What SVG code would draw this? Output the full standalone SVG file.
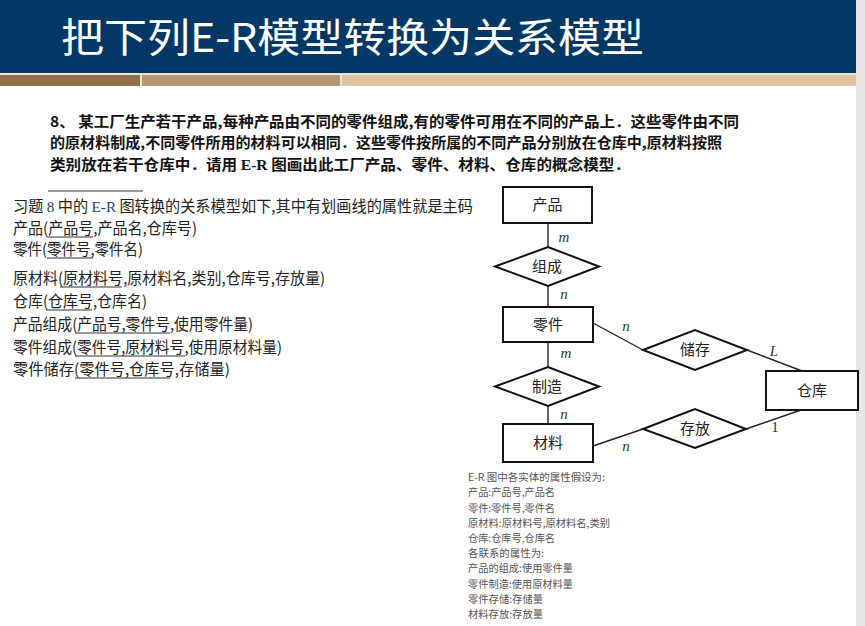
<svg xmlns="http://www.w3.org/2000/svg" width="865" height="626" viewBox="0 0 865 626">
<style>
.cjk{font-family:"Noto Sans CJK SC","Noto Sans",sans-serif}
.title{font-size:40px;fill:#ffffff}
.prob{font-size:14.5px;font-weight:bold;fill:#111}
.rel{font-size:15.5px;fill:#222}
.ul{stroke:#333;stroke-width:1}
.box{fill:#fff;stroke:#111;stroke-width:2}
.dia{fill:#fff;stroke:#111;stroke-width:2}
.conn line{stroke:#222;stroke-width:1.4}
.lbl{font-size:15px;fill:#222;text-anchor:middle}
.card{font-family:"Liberation Serif",serif;font-size:15px;font-style:italic;fill:#333;text-anchor:middle}
.note{font-size:10.5px;fill:#555}
.serif{font-family:"Liberation Serif",serif}
</style>
<rect x="0" y="0" width="865" height="626" fill="#ffffff"/>
<!-- header -->
<rect x="0" y="0" width="856" height="73" fill="#023865"/>
<rect x="0" y="73" width="856" height="2" fill="#e9e4da"/>
<rect x="0" y="75" width="140" height="11" fill="#946f48"/>
<rect x="140" y="75" width="2" height="11" fill="#efe6d8"/>
<rect x="142" y="75" width="198" height="11" fill="#b8966e"/>
<rect x="340" y="75" width="2" height="11" fill="#efe6d8"/>
<rect x="342" y="75" width="514" height="11" fill="#dfc39e"/>
<rect x="856" y="0" width="9" height="626" fill="#e6e6e6"/>
<text class="cjk title" x="61" y="52" textLength="583" lengthAdjust="spacingAndGlyphs">把下列E-R模型转换为关系模型</text>

<!-- problem statement -->
<text class="cjk prob" x="50" y="127" textLength="689" lengthAdjust="spacingAndGlyphs">8、 某工厂生产若干产品,每种产品由不同的零件组成,有的零件可用在不同的产品上．这些零件由不同</text>
<text class="cjk prob" x="50" y="148" textLength="672" lengthAdjust="spacingAndGlyphs">的原材料制成,不同零件所用的材料可以相同．这些零件按所属的不同产品分别放在仓库中,原材料按照</text>
<text class="cjk prob" x="50" y="170" textLength="580" lengthAdjust="spacingAndGlyphs">类别放在若干仓库中．请用 <tspan class="serif">E-R</tspan> 图画出此工厂产品、零件、材料、仓库的概念模型．</text>

<!-- relational model text -->
<line class="ul" x1="48" y1="191" x2="143" y2="191"/>
<text class="cjk rel" x="13" y="212" textLength="460" lengthAdjust="spacingAndGlyphs">习题 <tspan class="serif" fill="#2a3d6e">8</tspan> 中的 <tspan class="serif" fill="#2a3d6e">E-R</tspan> 图转换的关系模型如下,其中有划画线的属性就是主码</text>
<text class="cjk rel" x="13" y="234" textLength="184" lengthAdjust="spacingAndGlyphs">产品(产品号,产品名,仓库号)</text>
<line class="ul" x1="47" y1="237" x2="93" y2="237"/>
<text class="cjk rel" x="13" y="255" textLength="130" lengthAdjust="spacingAndGlyphs">零件(零件号,零件名)</text>
<line class="ul" x1="47" y1="258" x2="93" y2="258"/>
<text class="cjk rel" x="13" y="284" textLength="312" lengthAdjust="spacingAndGlyphs">原材料(原材料号,原材料名,类别,仓库号,存放量)</text>
<line class="ul" x1="60" y1="287" x2="122" y2="287"/>
<text class="cjk rel" x="13" y="307" textLength="134" lengthAdjust="spacingAndGlyphs">仓库(仓库号,仓库名)</text>
<line class="ul" x1="46" y1="310" x2="92" y2="310"/>
<text class="cjk rel" x="13" y="330" textLength="240" lengthAdjust="spacingAndGlyphs">产品组成(产品号,零件号,使用零件量)</text>
<line class="ul" x1="75" y1="333" x2="170" y2="333"/>
<text class="cjk rel" x="13" y="353" textLength="269" lengthAdjust="spacingAndGlyphs">零件组成(零件号,原材料号,使用原材料量)</text>
<line class="ul" x1="75" y1="356" x2="185" y2="356"/>
<text class="cjk rel" x="13" y="375" textLength="217" lengthAdjust="spacingAndGlyphs">零件储存(零件号,仓库号,存储量)</text>
<line class="ul" x1="75" y1="378" x2="170" y2="378"/>

<!-- connectors -->
<g id="connectors" class="conn">
<line x1="548" y1="223" x2="548" y2="247"/>
<line x1="548" y1="286" x2="548" y2="307"/>
<line x1="548" y1="342" x2="548" y2="367"/>
<line x1="548" y1="406" x2="548" y2="424"/>
<line x1="593" y1="323" x2="643" y2="350"/>
<line x1="747" y1="350" x2="802" y2="371"/>
<line x1="593" y1="446" x2="643" y2="429"/>
<line x1="746" y1="429" x2="801" y2="410"/>
</g>

<!-- cardinalities -->
<g id="cardinalities">
<text class="card" x="564" y="242">m</text>
<text class="card" x="564" y="299">n</text>
<text class="card" x="566" y="358">m</text>
<text class="card" x="564" y="419">n</text>
<text class="card" x="626" y="331">n</text>
<text class="card" x="626" y="451">n</text>
<text class="card" x="774" y="356">L</text>
<text class="card" x="775" y="432" style="font-style:normal">1</text>
</g>

<!-- entities -->
<g id="product"><rect class="box" x="503" y="187" width="89" height="36"/><text class="cjk lbl" x="547.5" y="210">产品</text></g>
<g id="part"><rect class="box" x="503" y="307" width="90" height="35"/><text class="cjk lbl" x="548" y="330">零件</text></g>
<g id="material"><rect class="box" x="503" y="424" width="90" height="38"/><text class="cjk lbl" x="548" y="448">材料</text></g>
<g id="warehouse"><rect class="box" x="766" y="371" width="92" height="39"/><text class="cjk lbl" x="812" y="396">仓库</text></g>

<!-- relationships -->
<g id="compose"><polygon class="dia" points="495,266.5 548,247 599,266.5 548,286"/><text class="cjk lbl" x="547" y="272">组成</text></g>
<g id="manufacture"><polygon class="dia" points="495,386.5 548,367 599,386.5 548,406"/><text class="cjk lbl" x="547" y="392">制造</text></g>
<g id="store"><polygon class="dia" points="643,350 695,330 747,350 695,370"/><text class="cjk lbl" x="695" y="355">储存</text></g>
<g id="place"><polygon class="dia" points="643,429 695,409 746,429 695,448"/><text class="cjk lbl" x="695" y="434">存放</text></g>

<!-- attribute notes -->
<g id="notes" class="cjk note">
<text x="468" y="481" textLength="137" lengthAdjust="spacingAndGlyphs">E-R 图中各实体的属性假设为:</text>
<text x="468" y="496" textLength="87" lengthAdjust="spacingAndGlyphs">产品:产品号,产品名</text>
<text x="468" y="512" textLength="87" lengthAdjust="spacingAndGlyphs">零件:零件号,零件名</text>
<text x="468" y="527" textLength="142" lengthAdjust="spacingAndGlyphs">原材料:原材料号,原材料名,类别</text>
<text x="468" y="542" textLength="87" lengthAdjust="spacingAndGlyphs">仓库:仓库号,仓库名</text>
<text x="468" y="557" textLength="76" lengthAdjust="spacingAndGlyphs">各联系的属性为:</text>
<text x="468" y="572" textLength="105" lengthAdjust="spacingAndGlyphs">产品的组成:使用零件量</text>
<text x="468" y="588" textLength="105" lengthAdjust="spacingAndGlyphs">零件制造:使用原材料量</text>
<text x="468" y="603" textLength="75" lengthAdjust="spacingAndGlyphs">零件存储:存储量</text>
<text x="468" y="618" textLength="75" lengthAdjust="spacingAndGlyphs">材料存放:存放量</text>
</g>
</svg>
